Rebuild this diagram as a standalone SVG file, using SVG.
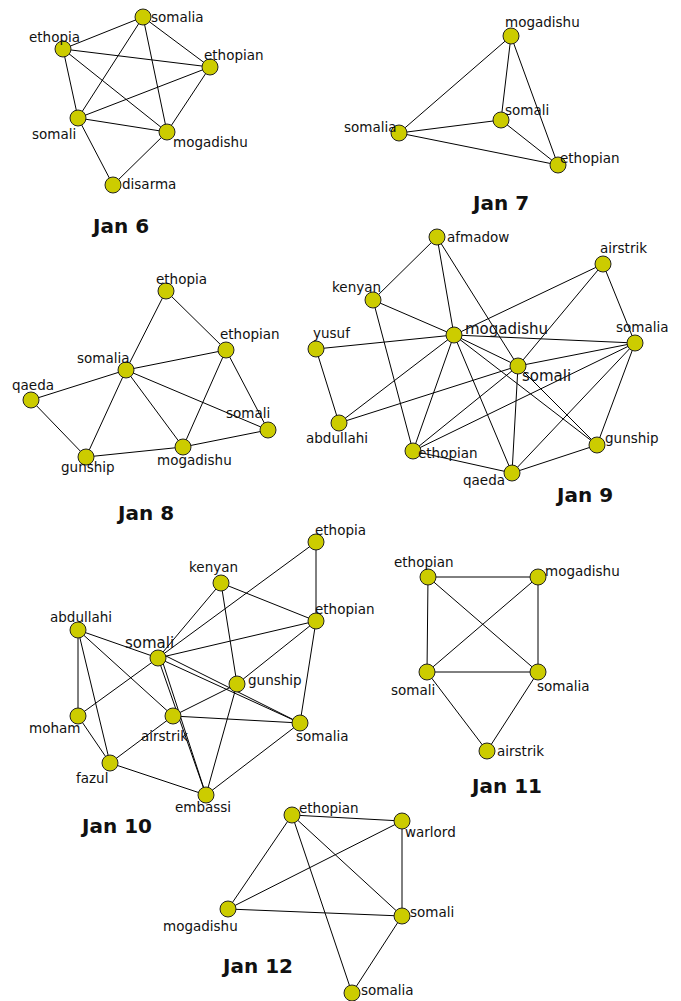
<svg xmlns="http://www.w3.org/2000/svg" width="681" height="1001" viewBox="0 0 681 1001">
<style>
.e{stroke:#000;stroke-width:1;fill:none}
.n circle{fill:#cccc00;stroke:#222;stroke-width:1}
.n text{font-family:"DejaVu Sans",sans-serif;font-size:13.5px;fill:#111}
.n text.big{font-size:15px}
.t{font-family:"DejaVu Sans",sans-serif;font-size:20px;font-weight:bold;fill:#111}
</style>
<rect width="681" height="1001" fill="#fff"/>
<g id="connectors">
<!-- Jan 6 -->
<line class="e" x1="143" y1="17" x2="63" y2="49"/>
<line class="e" x1="143" y1="17" x2="210" y2="67"/>
<line class="e" x1="143" y1="17" x2="78" y2="118"/>
<line class="e" x1="143" y1="17" x2="167" y2="132"/>
<line class="e" x1="63" y1="49" x2="210" y2="67"/>
<line class="e" x1="63" y1="49" x2="78" y2="118"/>
<line class="e" x1="63" y1="49" x2="167" y2="132"/>
<line class="e" x1="210" y1="67" x2="78" y2="118"/>
<line class="e" x1="210" y1="67" x2="167" y2="132"/>
<line class="e" x1="78" y1="118" x2="167" y2="132"/>
<line class="e" x1="78" y1="118" x2="113" y2="185"/>
<line class="e" x1="167" y1="132" x2="113" y2="185"/>
<!-- Jan 7 -->
<line class="e" x1="511" y1="36" x2="399" y2="133"/>
<line class="e" x1="511" y1="36" x2="501" y2="120"/>
<line class="e" x1="511" y1="36" x2="558" y2="165"/>
<line class="e" x1="399" y1="133" x2="501" y2="120"/>
<line class="e" x1="399" y1="133" x2="558" y2="165"/>
<line class="e" x1="501" y1="120" x2="558" y2="165"/>
<!-- Jan 8 -->
<line class="e" x1="166" y1="291" x2="126" y2="370"/>
<line class="e" x1="166" y1="291" x2="226" y2="350"/>
<line class="e" x1="226" y1="350" x2="126" y2="370"/>
<line class="e" x1="226" y1="350" x2="268" y2="430"/>
<line class="e" x1="226" y1="350" x2="183" y2="447"/>
<line class="e" x1="126" y1="370" x2="31" y2="400"/>
<line class="e" x1="126" y1="370" x2="86" y2="457"/>
<line class="e" x1="126" y1="370" x2="183" y2="447"/>
<line class="e" x1="126" y1="370" x2="268" y2="430"/>
<line class="e" x1="31" y1="400" x2="86" y2="457"/>
<line class="e" x1="86" y1="457" x2="183" y2="447"/>
<line class="e" x1="183" y1="447" x2="268" y2="430"/>
<!-- Jan 9 -->
<line class="e" x1="437" y1="237" x2="373" y2="300"/>
<line class="e" x1="437" y1="237" x2="454" y2="335"/>
<line class="e" x1="437" y1="237" x2="518" y2="366"/>
<line class="e" x1="373" y1="300" x2="454" y2="335"/>
<line class="e" x1="373" y1="300" x2="413" y2="451"/>
<line class="e" x1="603" y1="264" x2="454" y2="335"/>
<line class="e" x1="603" y1="264" x2="518" y2="366"/>
<line class="e" x1="603" y1="264" x2="635" y2="343"/>
<line class="e" x1="316" y1="349" x2="454" y2="335"/>
<line class="e" x1="316" y1="349" x2="339" y2="423"/>
<line class="e" x1="454" y1="335" x2="635" y2="343"/>
<line class="e" x1="454" y1="335" x2="518" y2="366"/>
<line class="e" x1="454" y1="335" x2="339" y2="423"/>
<line class="e" x1="454" y1="335" x2="413" y2="451"/>
<line class="e" x1="454" y1="335" x2="512" y2="473"/>
<line class="e" x1="454" y1="335" x2="597" y2="445"/>
<line class="e" x1="518" y1="366" x2="339" y2="423"/>
<line class="e" x1="518" y1="366" x2="635" y2="343"/>
<line class="e" x1="518" y1="366" x2="413" y2="451"/>
<line class="e" x1="518" y1="366" x2="512" y2="473"/>
<line class="e" x1="518" y1="366" x2="597" y2="445"/>
<line class="e" x1="635" y1="343" x2="413" y2="451"/>
<line class="e" x1="635" y1="343" x2="597" y2="445"/>
<line class="e" x1="635" y1="343" x2="512" y2="473"/>
<line class="e" x1="413" y1="451" x2="512" y2="473"/>
<line class="e" x1="512" y1="473" x2="597" y2="445"/>
<!-- Jan 10 -->
<line class="e" x1="316" y1="542" x2="316" y2="621"/>
<line class="e" x1="316" y1="542" x2="158" y2="658"/>
<line class="e" x1="221" y1="583" x2="158" y2="658"/>
<line class="e" x1="221" y1="583" x2="316" y2="621"/>
<line class="e" x1="221" y1="583" x2="237" y2="684"/>
<line class="e" x1="316" y1="621" x2="158" y2="658"/>
<line class="e" x1="316" y1="621" x2="237" y2="684"/>
<line class="e" x1="316" y1="621" x2="300" y2="723"/>
<line class="e" x1="78" y1="630" x2="158" y2="658"/>
<line class="e" x1="78" y1="630" x2="78" y2="716"/>
<line class="e" x1="78" y1="630" x2="110" y2="763"/>
<line class="e" x1="78" y1="630" x2="173" y2="716"/>
<line class="e" x1="158" y1="658" x2="78" y2="716"/>
<line class="e" x1="158" y1="658" x2="300" y2="723"/>
<line class="e" x1="160" y1="653" x2="300" y2="723"/>
<line class="e" x1="158" y1="658" x2="206" y2="795"/>
<line class="e" x1="161" y1="657" x2="206" y2="795"/>
<line class="e" x1="237" y1="684" x2="173" y2="716"/>
<line class="e" x1="237" y1="684" x2="206" y2="795"/>
<line class="e" x1="173" y1="716" x2="300" y2="723"/>
<line class="e" x1="173" y1="716" x2="110" y2="763"/>
<line class="e" x1="78" y1="716" x2="110" y2="763"/>
<line class="e" x1="110" y1="763" x2="206" y2="795"/>
<line class="e" x1="300" y1="723" x2="206" y2="795"/>
<!-- Jan 11 -->
<line class="e" x1="428" y1="577" x2="538" y2="577"/>
<line class="e" x1="428" y1="577" x2="427" y2="672"/>
<line class="e" x1="428" y1="577" x2="538" y2="672"/>
<line class="e" x1="538" y1="577" x2="427" y2="672"/>
<line class="e" x1="538" y1="577" x2="538" y2="672"/>
<line class="e" x1="427" y1="672" x2="538" y2="672"/>
<line class="e" x1="427" y1="672" x2="487" y2="751"/>
<line class="e" x1="538" y1="672" x2="487" y2="751"/>
<!-- Jan 12 -->
<line class="e" x1="292" y1="815" x2="402" y2="821"/>
<line class="e" x1="292" y1="815" x2="228" y2="909"/>
<line class="e" x1="292" y1="815" x2="402" y2="916"/>
<line class="e" x1="292" y1="815" x2="352" y2="993"/>
<line class="e" x1="402" y1="821" x2="228" y2="909"/>
<line class="e" x1="402" y1="821" x2="402" y2="916"/>
<line class="e" x1="228" y1="909" x2="402" y2="916"/>
<line class="e" x1="402" y1="916" x2="352" y2="993"/>
</g>

<!-- Jan 6 nodes -->
<g id="j6-somalia" class="n"><circle cx="143" cy="17" r="8"/><text x="151" y="22">somalia</text></g>
<g id="j6-ethopia" class="n"><circle cx="63" cy="49" r="8"/><text x="29" y="42">ethopia</text></g>
<g id="j6-ethopian" class="n"><circle cx="210" cy="67" r="8"/><text x="204" y="60">ethopian</text></g>
<g id="j6-somali" class="n"><circle cx="78" cy="118" r="8"/><text x="32" y="139">somali</text></g>
<g id="j6-mogadishu" class="n"><circle cx="167" cy="132" r="8"/><text x="173" y="147">mogadishu</text></g>
<g id="j6-disarma" class="n"><circle cx="113" cy="185" r="8"/><text x="122" y="189">disarma</text></g>
<text class="t" x="93" y="233">Jan 6</text>

<!-- Jan 7 nodes -->
<g id="j7-mogadishu" class="n"><circle cx="511" cy="36" r="8"/><text x="505" y="27">mogadishu</text></g>
<g id="j7-somali" class="n"><circle cx="501" cy="120" r="8"/><text x="505" y="115">somali</text></g>
<g id="j7-somalia" class="n"><circle cx="399" cy="133" r="8"/><text x="344" y="132">somalia</text></g>
<g id="j7-ethopian" class="n"><circle cx="558" cy="165" r="8"/><text x="560" y="163">ethopian</text></g>
<text class="t" x="473" y="210">Jan 7</text>

<!-- Jan 8 nodes -->
<g id="j8-ethopia" class="n"><circle cx="166" cy="291" r="8"/><text x="156" y="284">ethopia</text></g>
<g id="j8-ethopian" class="n"><circle cx="226" cy="350" r="8"/><text x="220" y="339">ethopian</text></g>
<g id="j8-somalia" class="n"><circle cx="126" cy="370" r="8"/><text x="77" y="363">somalia</text></g>
<g id="j8-qaeda" class="n"><circle cx="31" cy="400" r="8"/><text x="12" y="390">qaeda</text></g>
<g id="j8-somali" class="n"><circle cx="268" cy="430" r="8"/><text x="226" y="418">somali</text></g>
<g id="j8-mogadishu" class="n"><circle cx="183" cy="447" r="8"/><text x="157" y="465">mogadishu</text></g>
<g id="j8-gunship" class="n"><circle cx="86" cy="457" r="8"/><text x="61" y="472">gunship</text></g>
<text class="t" x="118" y="520">Jan 8</text>

<!-- Jan 9 nodes -->
<g id="j9-afmadow" class="n"><circle cx="437" cy="237" r="8"/><text x="447" y="242">afmadow</text></g>
<g id="j9-airstrik" class="n"><circle cx="603" cy="264" r="8"/><text x="600" y="253">airstrik</text></g>
<g id="j9-kenyan" class="n"><circle cx="373" cy="300" r="8"/><text x="332" y="292">kenyan</text></g>
<g id="j9-mogadishu" class="n"><circle cx="454" cy="335" r="8"/><text class="big" x="465" y="334">mogadishu</text></g>
<g id="j9-yusuf" class="n"><circle cx="316" cy="349" r="8"/><text x="313" y="338">yusuf</text></g>
<g id="j9-somalia" class="n"><circle cx="635" cy="343" r="8"/><text x="616" y="332">somalia</text></g>
<g id="j9-somali" class="n"><circle cx="518" cy="366" r="8"/><text class="big" x="522" y="381">somali</text></g>
<g id="j9-abdullahi" class="n"><circle cx="339" cy="423" r="8"/><text x="306" y="443">abdullahi</text></g>
<g id="j9-ethopian" class="n"><circle cx="413" cy="451" r="8"/><text x="418" y="458">ethopian</text></g>
<g id="j9-gunship" class="n"><circle cx="597" cy="445" r="8"/><text x="605" y="443">gunship</text></g>
<g id="j9-qaeda" class="n"><circle cx="512" cy="473" r="8"/><text x="463" y="485">qaeda</text></g>
<text class="t" x="557" y="502">Jan 9</text>

<!-- Jan 10 nodes -->
<g id="j10-ethopia" class="n"><circle cx="316" cy="542" r="8"/><text x="315" y="535">ethopia</text></g>
<g id="j10-kenyan" class="n"><circle cx="221" cy="583" r="8"/><text x="189" y="572">kenyan</text></g>
<g id="j10-ethopian" class="n"><circle cx="316" cy="621" r="8"/><text x="315" y="614">ethopian</text></g>
<g id="j10-abdullahi" class="n"><circle cx="78" cy="630" r="8"/><text x="50" y="622">abdullahi</text></g>
<g id="j10-somali" class="n"><circle cx="158" cy="658" r="8"/><text class="big" x="125" y="648">somali</text></g>
<g id="j10-gunship" class="n"><circle cx="237" cy="684" r="8"/><text x="248" y="685">gunship</text></g>
<g id="j10-moham" class="n"><circle cx="78" cy="716" r="8"/><text x="29" y="733">moham</text></g>
<g id="j10-airstrik" class="n"><circle cx="173" cy="716" r="8"/><text x="141" y="741">airstrik</text></g>
<g id="j10-somalia" class="n"><circle cx="300" cy="723" r="8"/><text x="296" y="741">somalia</text></g>
<g id="j10-fazul" class="n"><circle cx="110" cy="763" r="8"/><text x="76" y="783">fazul</text></g>
<g id="j10-embassi" class="n"><circle cx="206" cy="795" r="8"/><text x="175" y="812">embassi</text></g>
<text class="t" x="82" y="833">Jan 10</text>

<!-- Jan 11 nodes -->
<g id="j11-ethopian" class="n"><circle cx="428" cy="577" r="8"/><text x="394" y="567">ethopian</text></g>
<g id="j11-mogadishu" class="n"><circle cx="538" cy="577" r="8"/><text x="545" y="576">mogadishu</text></g>
<g id="j11-somali" class="n"><circle cx="427" cy="672" r="8"/><text x="391" y="695">somali</text></g>
<g id="j11-somalia" class="n"><circle cx="538" cy="672" r="8"/><text x="537" y="691">somalia</text></g>
<g id="j11-airstrik" class="n"><circle cx="487" cy="751" r="8"/><text x="497" y="756">airstrik</text></g>
<text class="t" x="472" y="793">Jan 11</text>

<!-- Jan 12 nodes -->
<g id="j12-ethopian" class="n"><circle cx="292" cy="815" r="8"/><text x="299" y="813">ethopian</text></g>
<g id="j12-warlord" class="n"><circle cx="402" cy="821" r="8"/><text x="405" y="837">warlord</text></g>
<g id="j12-mogadishu" class="n"><circle cx="228" cy="909" r="8"/><text x="163" y="931">mogadishu</text></g>
<g id="j12-somali" class="n"><circle cx="402" cy="916" r="8"/><text x="410" y="917">somali</text></g>
<g id="j12-somalia" class="n"><circle cx="352" cy="993" r="8"/><text x="361" y="995">somalia</text></g>
<text class="t" x="223" y="973">Jan 12</text>
</svg>
